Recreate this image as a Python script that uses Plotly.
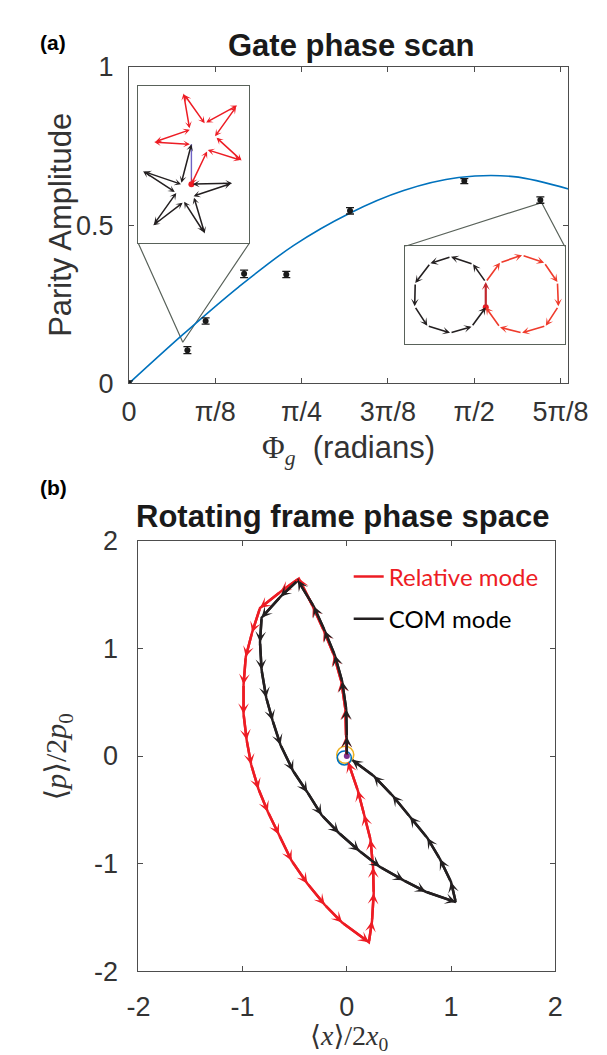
import math
import plotly.graph_objects as go

# ---------------- data: panel (a) gate phase scan ----------------
gate_phase = [0.0, 0.266, 0.349, 0.524, 0.716, 1.006, 1.526, 1.872]
parity_amplitude = [0.0, 0.105, 0.197, 0.346, 0.344, 0.545, 0.639, 0.579]
parity_error = [0.008, 0.011, 0.010, 0.012, 0.010, 0.010, 0.008, 0.010]
fit_phase = [0.0, 0.25, 0.5, 0.75, 1.0, 1.25, 1.5, 1.75, 2.0]
fit_amplitude = [0.0, 0.157, 0.305, 0.436, 0.536, 0.609, 0.650, 0.653, 0.614]
phase_tick_labels = ["0", "π/8", "π/4", "3π/8", "π/2", "5π/8"]

# inset 1: star trajectories (local inset units)
star_red_u = [56, 16.7, 54.3, 47.7, 70, 104.3, 81, 109, 73.3, 56]
star_red_v = [60, 57.7, 45, 7.7, 38.3, 20, 51.7, 76.7, 65.7, 101]
star_black_u = [56, 99, 58.3, 70, 48.3, 15.7, 40, 5, 45, 56]
star_black_v = [101, 100, 113.3, 151.7, 119, 143.3, 110, 87.7, 101, 60]

# inset 2: ring trajectories (local inset units)
ring_black_u = [85.7, 72.3, 49, 27.3, 11.3, 10.7, 24, 48, 70.7, 85.7]
ring_black_v = [36.7, 18.3, 10.7, 17.3, 37.7, 61.7, 81.7, 89, 82.7, 62.7]
ring_red_u = [85.7, 100.7, 124, 147.3, 161.3, 162.3, 149, 124, 100.7, 85.7]
ring_red_v = [36.7, 16.7, 9, 16.7, 36.7, 61.7, 81.7, 89, 83.3, 62.7]

# ---------------- data: panel (b) rotating frame phase space ----------------
com_x = [0.0, 0.0, -0.006, -0.045, -0.115, -0.212, -0.318, -0.47, -0.636, -0.818,
         -0.833, -0.818, -0.773, -0.712, -0.636, -0.515, -0.379, -0.242, -0.076, 0.121,
         0.318, 0.545, 0.757, 1.045, 1.0, 0.894, 0.773, 0.606, 0.439, 0.258, 0.05]
com_y = [0.0, 0.179, 0.436, 0.694, 0.936, 1.164, 1.391, 1.633, 1.482, 1.285,
         1.058, 0.80, 0.542, 0.33, 0.103, -0.139, -0.336, -0.548, -0.715, -0.882,
         -1.03, -1.155, -1.261, -1.357, -1.17, -0.958, -0.761, -0.564, -0.367, -0.185, -0.035]
rel_x = [0.0, -0.008, -0.014, -0.053, -0.123, -0.22, -0.326, -0.46, -0.636, -0.833,
         -0.909, -0.97, -0.991, -0.991, -0.961, -0.918, -0.848, -0.758, -0.652, -0.53,
         -0.379, -0.212, -0.045, 0.212, 0.242, 0.258, 0.252, 0.227, 0.167, 0.106, 0.012]
rel_y = [0.0, 0.179, 0.436, 0.694, 0.936, 1.164, 1.391, 1.65, 1.527, 1.376,
         1.148, 0.921, 0.664, 0.391, 0.148, -0.079, -0.306, -0.518, -0.73, -0.973,
         -1.185, -1.382, -1.548, -1.73, -1.533, -1.276, -1.033, -0.776, -0.548, -0.321, -0.055]
origin_mark_x = [-0.015, -0.024, 0.0]
origin_mark_y = [0.012, -0.018, 0.0]
phase_space_ticks = [-2, -1, 0, 1, 2]
phase_space_labels = ["-2", "-1", "0", "1", "2"]

# ---------------- layout geometry (pixels) ----------------
W, H = 607, 1055
PA_L, PA_R, PA_T, PA_B = 115, 579, 45, 371
PB_L, PB_R, PB_T, PB_B = 125, 565, 533, 976
A_XMAX = 2.0

def fx(p):
    return p / W

def fy(p):
    return 1 - p / H

def a_to_paper_x(v):
    return fx(PA_L + v / A_XMAX * (PA_R - PA_L))

def a_to_paper_y(v):
    return fy(PA_B - v * (PA_B - PA_T))

INSET1 = dict(x0=0.043, x1=0.547, y0=0.442, y1=0.939, tipx=0.245, tipy=0.13)
INSET2 = dict(x0=1.254, x1=1.983, y0=0.126, y1=0.4325, tipx=1.878, tipy=0.571)
IN1_U, IN1_V = 117, 162
IN2_U, IN2_V = 169, 100

SANS = "Liberation Sans, Arial, sans-serif"
SERIF = "Liberation Serif, DejaVu Serif, serif"
AX = "#4d4d4d"
TXT = "#333333"
RED = "#ED1C24"
BLK = "#231F20"
GRAYBOX = "#59625a"

fig = go.Figure()

# cone lines linking insets to data points
for ins, top in ((INSET1, False), (INSET2, True)):
    yb = ins["y1"] if top else ins["y0"]
    fig.add_trace(go.Scatter(x=[ins["x0"], ins["tipx"], ins["x1"]], y=[yb, ins["tipy"], yb],
                             mode="lines", line=dict(color=GRAYBOX, width=1.2),
                             showlegend=False, hoverinfo="skip", xaxis="x", yaxis="y"))

fig.add_trace(go.Scatter(x=fit_phase, y=fit_amplitude, mode="lines",
                         line=dict(color="#0072BD", width=1.6, shape="spline", smoothing=1.0),
                         showlegend=False, xaxis="x", yaxis="y"))
fig.add_trace(go.Scatter(x=gate_phase, y=parity_amplitude, mode="markers",
                         marker=dict(color="#1a1a1a", size=6),
                         error_y=dict(type="data", array=parity_error, color="#1a1a1a",
                                      thickness=1.3, width=4),
                         showlegend=False, xaxis="x", yaxis="y"))

# inset purple link + dots
fig.add_trace(go.Scatter(x=[star_red_u[0], star_red_u[-1]], y=[star_red_v[0], star_red_v[-1]],
                         mode="lines", line=dict(color="#6f62c4", width=1.4),
                         showlegend=False, xaxis="x3", yaxis="y3"))
fig.add_trace(go.Scatter(x=[star_red_u[-1]], y=[star_red_v[-1]], mode="markers",
                         marker=dict(color=RED, size=6), showlegend=False, xaxis="x3", yaxis="y3"))
fig.add_trace(go.Scatter(x=[ring_red_u[-1]], y=[ring_red_v[-1]], mode="markers",
                         marker=dict(color=RED, size=6), showlegend=False, xaxis="x4", yaxis="y4"))

# panel (b) paths (legend entries)
fig.add_trace(go.Scatter(x=rel_x, y=rel_y, mode="lines", line=dict(color=RED, width=2.5),
                         name='<span style="color:#ED1C24">Relative mode</span>',
                         legendgroup="rel", xaxis="x2", yaxis="y2"))
fig.add_trace(go.Scatter(x=com_x, y=com_y, mode="lines", line=dict(color=BLK, width=2.5),
                         name='<span style="color:#000000">COM mode</span>',
                         legendgroup="com", xaxis="x2", yaxis="y2"))
fig.add_trace(go.Scatter(x=origin_mark_x[:1], y=origin_mark_y[:1], mode="markers",
                         marker=dict(symbol="circle-open", size=17, color="#EDB120", line=dict(width=1.6)),
                         showlegend=False, xaxis="x2", yaxis="y2"))
fig.add_trace(go.Scatter(x=origin_mark_x[1:2], y=origin_mark_y[1:2], mode="markers",
                         marker=dict(symbol="circle-open", size=14, color="#0072BD", line=dict(width=1.6)),
                         showlegend=False, xaxis="x2", yaxis="y2"))
fig.add_trace(go.Scatter(x=origin_mark_x[2:], y=origin_mark_y[2:], mode="markers",
                         marker=dict(size=6, color="#7E2F8E"),
                         showlegend=False, xaxis="x2", yaxis="y2"))


def path_arrows(xs, ys, xref, yref, color, width, head, size, both=False):
    out = []
    for i in range(len(xs) - 1):
        out.append(dict(x=xs[i + 1], y=ys[i + 1], ax=xs[i], ay=ys[i],
                        xref=xref, yref=yref, axref=xref, ayref=yref,
                        text="", showarrow=True, arrowhead=head, arrowsize=size,
                        arrowwidth=width, arrowcolor=color, standoff=0, startstandoff=0,
                        arrowside="end+start" if both else "end",
                        startarrowhead=head, startarrowsize=size))
    return out


def label(text, xpx, ypx, size, family=SANS, color=TXT, xanchor="center",
          yanchor="middle", angle=0):
    return dict(text=text, x=fx(xpx), y=fy(ypx), xref="paper", yref="paper",
                showarrow=False, font=dict(family=family, size=size, color=color),
                xanchor=xanchor, yanchor=yanchor, textangle=angle)


anns = []
anns += path_arrows(rel_x, rel_y, "x2", "y2", RED, 2.5, 3, 0.72)
anns += path_arrows(com_x, com_y, "x2", "y2", BLK, 2.5, 3, 0.72)
anns += path_arrows(star_red_u, star_red_v, "x3", "y3", RED, 1.5, 3, 0.75, both=True)
anns += path_arrows(star_black_u, star_black_v, "x3", "y3", BLK, 1.5, 3, 0.75, both=True)
anns += path_arrows(ring_black_u, ring_black_v, "x4", "y4", BLK, 1.6, 3, 0.8)
anns += path_arrows(ring_red_u, ring_red_v, "x4", "y4", "#EF3B2C", 1.6, 3, 0.8)
anns += path_arrows([ring_red_u[-1], ring_red_u[0]], [ring_red_v[-1], ring_red_v[0]],
                    "x4", "y4", "#C1272D", 2.2, 3, 0.6)

anns.append(label("<b>(a)</b>", 19, 20, 21, color="#000000", xanchor="left"))
anns.append(label("<b>Gate phase scan</b>", 349, 23, 31, color="#1a1a1a"))
anns.append(label('<span style="font-family:Liberation Serif">Φ<sub><i>g</i></sub></span>  (radians)',
                  347, 440, 31))
anns.append(label("Parity Amplitude", 42, 208, 31, angle=-90))
anns.append(label("<b>(b)</b>", 19, 478, 21, color="#000000", xanchor="left"))
anns.append(label("<b>Rotating frame phase space</b>", 340, 508, 31, color="#1a1a1a"))
anns.append(label("⟨<i>p</i>⟩/2<i>p</i><sub>0</sub>", 40, 755, 30, family=SERIF, angle=-90))
anns.append(label("⟨<i>x</i>⟩/2<i>x</i><sub>0</sub>", 348, 1044, 28, family=SERIF))

axis_common = dict(showline=True, linecolor=AX, linewidth=1, mirror="ticks", ticks="inside",
                   ticklen=5, tickcolor=AX, showgrid=False, zeroline=False,
                   tickfont=dict(family=SANS, size=27, color=TXT))

inset_axis = dict(showline=True, linecolor=GRAYBOX, linewidth=1.3, mirror=True, ticks="",
                  showticklabels=False, showgrid=False, zeroline=False)

fig.update_layout(
    width=W, height=H, margin=dict(l=0, r=0, t=0, b=0),
    paper_bgcolor="white", plot_bgcolor="white", hovermode=False,
    xaxis=dict(axis_common, domain=[fx(PA_L), fx(PA_R)], range=[0, A_XMAX],
               tickvals=[k * math.pi / 8 for k in range(len(phase_tick_labels))],
               ticktext=phase_tick_labels, anchor="y", ticklabelstandoff=4),
    yaxis=dict(axis_common, domain=[fy(PA_B), fy(PA_T)], range=[0, 1],
               tickvals=[0, 0.5, 1], ticktext=["0", "0.5", "1"], anchor="x",
               ticklabelstandoff=9),
    xaxis2=dict(axis_common, domain=[fx(PB_L), fx(PB_R)], range=[-2, 2],
                tickvals=phase_space_ticks, ticktext=phase_space_labels, anchor="y2",
                ticklabelstandoff=11),
    yaxis2=dict(axis_common, domain=[fy(PB_B), fy(PB_T)], range=[-2, 2],
                tickvals=phase_space_ticks, ticktext=phase_space_labels, anchor="x2",
                ticklabelstandoff=14),
    xaxis3=dict(inset_axis, domain=[a_to_paper_x(INSET1["x0"]), a_to_paper_x(INSET1["x1"])],
                range=[0, IN1_U], anchor="y3"),
    yaxis3=dict(inset_axis, domain=[a_to_paper_y(INSET1["y0"]), a_to_paper_y(INSET1["y1"])],
                range=[IN1_V, 0], anchor="x3"),
    xaxis4=dict(inset_axis, domain=[a_to_paper_x(INSET2["x0"]), a_to_paper_x(INSET2["x1"])],
                range=[0, IN2_U], anchor="y4"),
    yaxis4=dict(inset_axis, domain=[a_to_paper_y(INSET2["y0"]), a_to_paper_y(INSET2["y1"])],
                range=[IN2_V, 0], anchor="x4"),
    legend=dict(x=fx(347), y=fy(547), xanchor="left", yanchor="top",
                bgcolor="rgba(0,0,0,0)", font=dict(family="Lato, Open Sans, sans-serif", size=24),
                itemwidth=30, tracegroupgap=8),
    annotations=anns,
)

fig.write_html("out.html")
